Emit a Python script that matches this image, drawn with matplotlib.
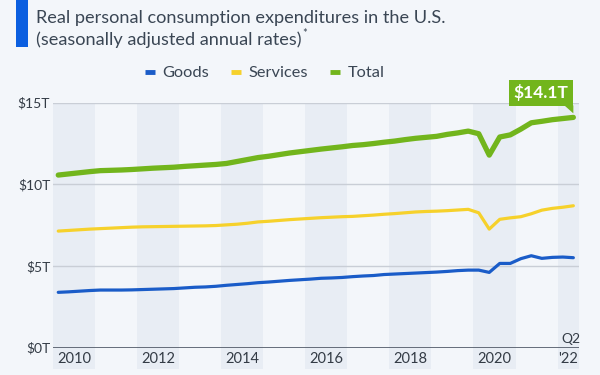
import matplotlib
matplotlib.use("Agg")
import matplotlib.pyplot as plt
import matplotlib.transforms as mtransforms
from matplotlib.patches import Rectangle, Polygon
from matplotlib.lines import Line2D

plt.rcParams['text.parse_math'] = False
plt.rcParams['font.family'] = ['Lato', 'DejaVu Sans']

# ---- data (trillions USD, quarterly 2010 Q1 .. 2022 Q2) ----
years = list(range(2010, 2023))
quarters_per_year = 4
goods = [3.39, 3.42, 3.46, 3.50, 3.53, 3.53, 3.53, 3.54, 3.56, 3.58, 3.60, 3.62,
         3.66, 3.70, 3.72, 3.76, 3.82, 3.87, 3.92, 3.98, 4.02, 4.07, 4.12, 4.16,
         4.20, 4.25, 4.27, 4.30, 4.35, 4.39, 4.42, 4.48, 4.51, 4.54, 4.57, 4.60,
         4.63, 4.67, 4.72, 4.75, 4.75, 4.61, 5.16, 5.16, 5.45, 5.63, 5.47, 5.53,
         5.55, 5.51]
services = [7.14, 7.18, 7.22, 7.26, 7.29, 7.32, 7.35, 7.38, 7.40, 7.41, 7.42, 7.43,
            7.44, 7.45, 7.46, 7.48, 7.52, 7.56, 7.62, 7.70, 7.74, 7.79, 7.84, 7.88,
            7.92, 7.96, 7.99, 8.02, 8.04, 8.08, 8.12, 8.17, 8.21, 8.26, 8.31, 8.34,
            8.36, 8.39, 8.43, 8.47, 8.26, 7.26, 7.86, 7.95, 8.02, 8.20, 8.42, 8.53,
            8.60, 8.69]
total = [10.57, 10.64, 10.71, 10.78, 10.84, 10.86, 10.88, 10.91, 10.95, 10.99, 11.02, 11.05,
         11.10, 11.14, 11.18, 11.22, 11.28, 11.40, 11.52, 11.64, 11.72, 11.82, 11.92, 12.00,
         12.08, 12.16, 12.23, 12.30, 12.38, 12.43, 12.50, 12.58, 12.65, 12.74, 12.82, 12.88,
         12.94, 13.06, 13.15, 13.26, 13.10, 11.79, 12.90, 13.03, 13.38, 13.77, 13.86, 13.96,
         14.03, 14.10]
series_names = ["Goods", "Services", "Total"]
yticks = [0, 5, 10, 15]
ytick_labels = ["$0T", "$5T", "$10T", "$15T"]
xtick_labels = ["2010", "2012", "2014", "2016", "2018", "2020", "'22"]
xtick_years = [2010, 2012, 2014, 2016, 2018, 2020, 2022]
last_label = "$14.1T"

# quarter midpoints
t = [2010 + (i + 0.5) / quarters_per_year for i in range(len(total))]

BG = '#f3f6fa'
BAND = '#e8edf4'
BLUE = '#1a5cc8'
YELLOW = '#f6d12b'
GREEN = '#72b51c'
TXT = '#3a4654'

fig = plt.figure(figsize=(6, 3.75), dpi=100, facecolor=BG)
ax = fig.add_axes([53 / 600, 1 - 347.7 / 375, (578.6 - 53) / 600, (347.7 - 102.7) / 375])
ax.set_facecolor(BG)
ax.set_xlim(2010, 2022.5)
ax.set_ylim(0, 15)

# alternating bands
trans = mtransforms.blended_transform_factory(ax.transData, ax.transAxes)
for y in xtick_years:
    w = min(1, 2022.5 - y)
    ax.add_patch(Rectangle((y, -0.088), w, 1.088, transform=trans, facecolor=BAND,
                           edgecolor='none', zorder=0, clip_on=False))

for yv in yticks[1:]:
    ax.axhline(yv, color='#c9ced6', lw=1.0, zorder=1)
ax.axhline(0, color='#5a6270', lw=1.3, zorder=1)

ax.plot(t, goods, color=BLUE, lw=2.3, zorder=3, solid_capstyle='round', solid_joinstyle='round')
ax.plot(t, services, color=YELLOW, lw=2.3, zorder=3, solid_capstyle='round', solid_joinstyle='round')
ax.plot(t, total, color=GREEN, lw=3.8, zorder=4, solid_capstyle='round', solid_joinstyle='round')

for s in ax.spines.values():
    s.set_visible(False)
ax.set_yticks(yticks)
ax.set_yticklabels(ytick_labels, fontsize=10, color='#333b45')
ax.tick_params(axis='y', length=0, pad=2)
ax.set_xticks([y + 0.5 if y < 2022 else 2022.25 for y in xtick_years])
ax.set_xticklabels(xtick_labels, fontsize=10.5, color='#333b45')
ax.tick_params(axis='x', length=0, pad=3)
ax.text(1.004, 0.012, "Q2", transform=ax.transAxes, ha='right', va='bottom',
        fontsize=10, color='#333b45')

# annotation box for last value
xl, yl = t[-1], total[-1]
ax.text(xl, yl, last_label, fontsize=12.5, fontweight='bold', color='white',
        ha='right', va='bottom', zorder=6,
        transform=mtransforms.offset_copy(ax.transData, fig=fig, x=-5, y=16, units='dots'),
        bbox=dict(boxstyle='square,pad=0.28', facecolor=GREEN, edgecolor='none'))
pts = [(0, 12), (-9, 12), (0, 4)]
fig.canvas.draw()
px, py = ax.transData.transform((xl, yl))
inv = ax.transData.inverted()
poly = Polygon([inv.transform((px + dx, py + dy)) for dx, dy in pts], closed=True,
               facecolor=GREEN, edgecolor='none', zorder=6, clip_on=False)
ax.add_patch(poly)

# title
fig.patches.append(Rectangle((16 / 600, 1 - 47 / 375), 12 / 600, 47 / 375,
                             transform=fig.transFigure, facecolor='#0b5fe0', edgecolor='none'))
t1 = fig.text(36 / 600, 1 - 23 / 375, "Real personal consumption expenditures in the U.S.",
              fontsize=13.1, color=TXT, ha='left', va='baseline')
t2 = fig.text(36 / 600, 1 - 45 / 375, "(seasonally adjusted annual rates)",
              fontsize=13.1, color=TXT, ha='left', va='baseline')
fig.canvas.draw()
r = fig.canvas.get_renderer()
bb = t2.get_window_extent(r)
fig.text((bb.x1 + 1) / 600, 1 - 37 / 375, "*", fontsize=8, color=TXT, ha='left', va='baseline')

# legend
handles = [Line2D([], [], color=c, lw=3.5, solid_capstyle='butt') for c in (BLUE, YELLOW, GREEN)]
fig.legend(handles, series_names, loc='center', bbox_to_anchor=(0.441, 1 - 73 / 375),
           ncol=3, frameon=False, fontsize=11.8, handlelength=0.65, handletextpad=0.45,
           columnspacing=1.3, labelcolor=TXT)

fig.savefig("out.png", dpi=100, facecolor=BG)
